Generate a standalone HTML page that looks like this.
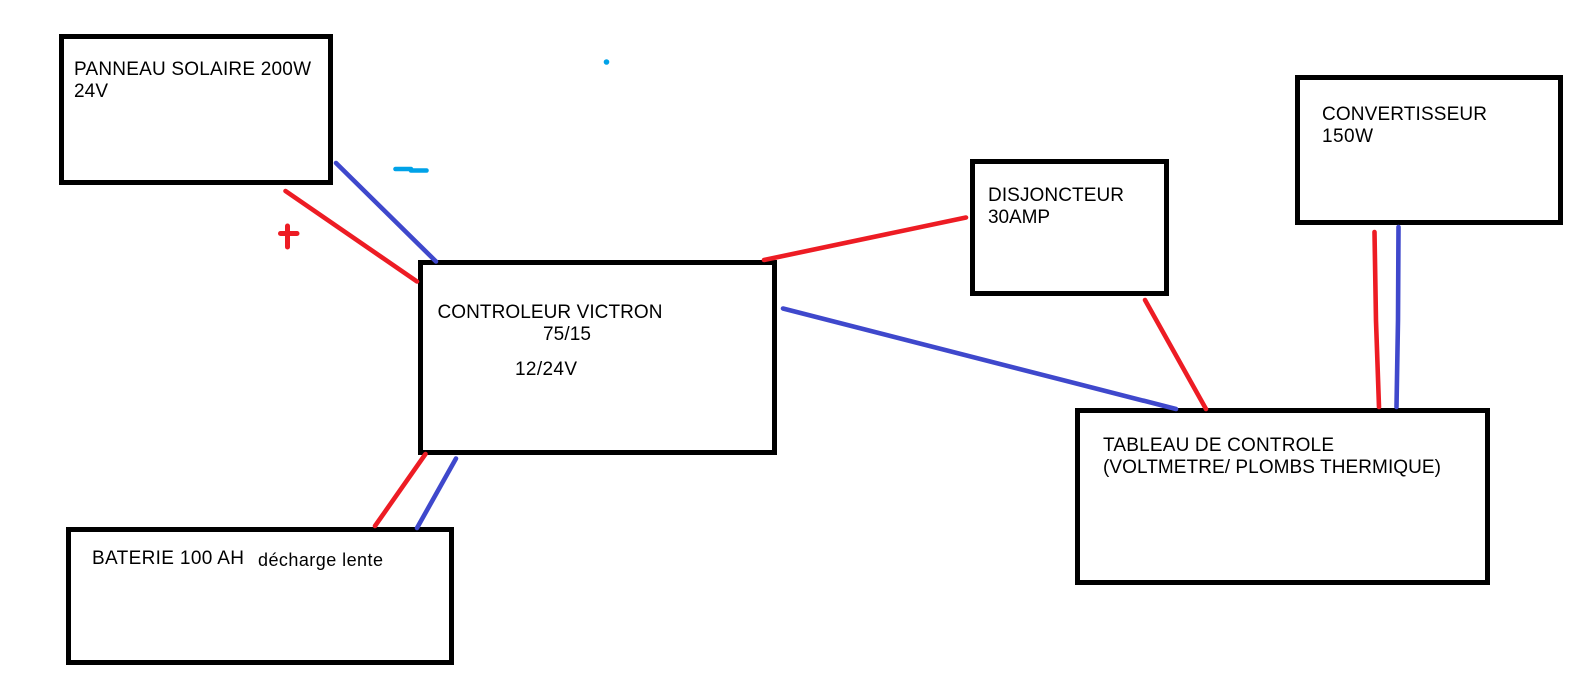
<!DOCTYPE html>
<html lang="fr">
<head>
<meta charset="utf-8">
<title>Schéma solaire</title>
<style>
html,body{margin:0;padding:0;background:#fff;}
svg{display:block;}
text{font-family:"Liberation Sans",Arial,sans-serif;font-size:19px;fill:#000;}
.b{fill:none;stroke:#000;stroke-width:5;}
.r{stroke:#ed1c24;stroke-width:4.6;stroke-linecap:round;fill:none;}
.u{stroke:#3f48cc;stroke-width:4.6;stroke-linecap:round;fill:none;}
.c{stroke:#00a2e8;stroke-width:4.6;stroke-linecap:round;fill:none;}
</style>
</head>
<body>
<svg width="1594" height="674" viewBox="0 0 1594 674" xmlns="http://www.w3.org/2000/svg">
<rect width="1594" height="674" fill="#fff"/>
<g shape-rendering="crispEdges">
<rect class="b" x="61.5" y="36.5" width="269" height="146"/>
<rect class="b" x="420.5" y="262.5" width="354" height="190"/>
<rect class="b" x="68.5" y="529.5" width="383" height="133"/>
<rect class="b" x="972.5" y="161.5" width="194" height="132"/>
<rect class="b" x="1297.5" y="77.5" width="263" height="145"/>
<rect class="b" x="1077.5" y="410.5" width="410" height="172"/>
</g>
<line class="u" x1="336" y1="163" x2="436" y2="261.5"/>
<line class="r" x1="285.5" y1="191" x2="417" y2="281.5"/>
<line class="r" x1="764" y1="260" x2="966" y2="217.5"/>
<line class="u" x1="783" y1="308.5" x2="1176" y2="409"/>
<line class="r" x1="1145" y1="300" x2="1206" y2="409"/>
<polyline class="r" points="1374.5,232 1376,321 1379,407"/>
<polyline class="u" points="1398.5,227 1398,320 1396.5,407"/>
<line class="r" x1="425.5" y1="454" x2="375" y2="526"/>
<line class="u" x1="456" y1="458.5" x2="417" y2="528"/>
<line class="c" x1="395.5" y1="169" x2="411" y2="169"/>
<line class="c" x1="411" y1="170.5" x2="426.5" y2="170.5"/>
<line class="r" stroke-width="5" style="stroke-width:5" x1="280.5" y1="233.5" x2="297" y2="233.5"/>
<line class="r" style="stroke-width:5" x1="287.5" y1="226" x2="287.5" y2="247"/>
<circle cx="606.5" cy="62" r="2.8" fill="#00a2e8"/>
<text x="74" y="75" textLength="237">PANNEAU SOLAIRE 200W</text>
<text x="74" y="97" textLength="34">24V</text>
<text x="437.5" y="318" textLength="225">CONTROLEUR VICTRON</text>
<text x="543" y="340" textLength="48">75/15</text>
<text x="515" y="375" textLength="62">12/24V</text>
<text x="92" y="564" textLength="152">BATERIE 100 AH</text>
<text x="258" y="566" textLength="125" style="font-size:18px">décharge lente</text>
<text x="988" y="201" textLength="136">DISJONCTEUR</text>
<text x="988" y="223" textLength="62">30AMP</text>
<text x="1322" y="120" textLength="165">CONVERTISSEUR</text>
<text x="1322" y="142" textLength="51">150W</text>
<text x="1103" y="451" textLength="231">TABLEAU DE CONTROLE</text>
<text x="1103" y="473" textLength="338">(VOLTMETRE/ PLOMBS THERMIQUE)</text>
</svg>
</body>
</html>
